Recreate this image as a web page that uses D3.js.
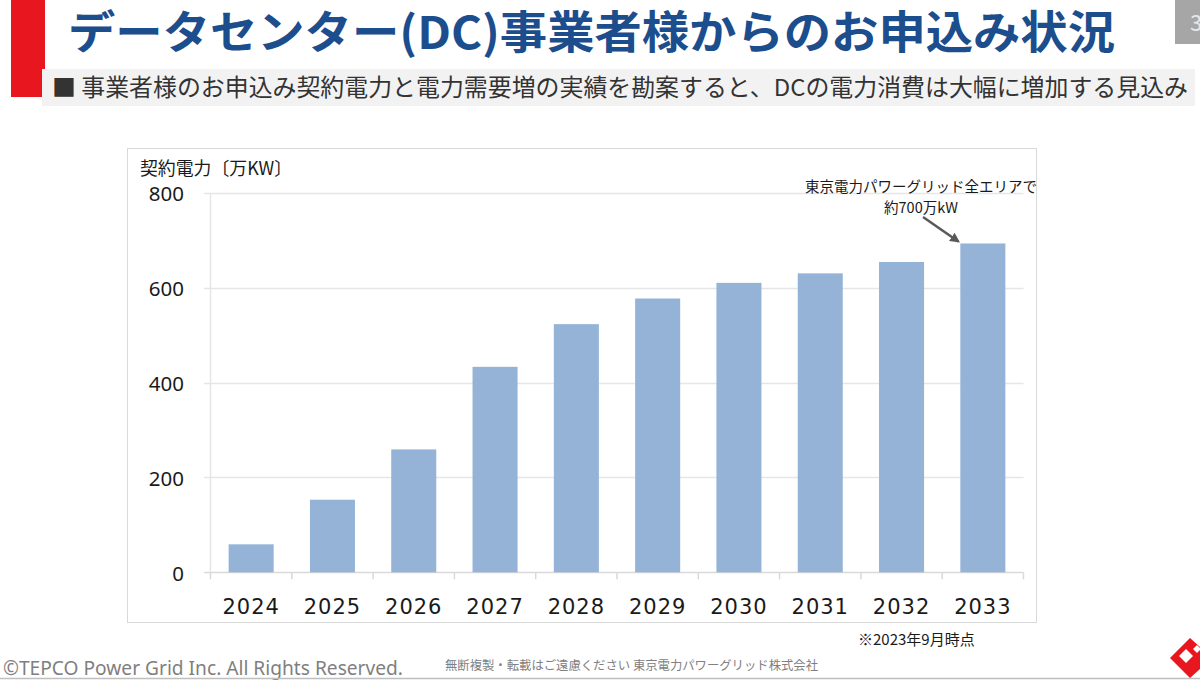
<!DOCTYPE html>
<html>
<head>
<meta charset="utf-8">
<script src="https://cdn.jsdelivr.net/npm/d3@7"></script>
<style>
  html, body { margin: 0; padding: 0; background: #fff; }
  svg { display: block; }
  text { font-family: "Noto Sans CJK JP", "Noto Sans", sans-serif; }
</style>
</head>
<body>
<svg id="chart" width="1200" height="680"></svg>
<script>
// data
const years = ["2024", "2025", "2026", "2027", "2028", "2029", "2030", "2031", "2032", "2033"];
const contractPower = [59, 153, 259, 433, 523, 577, 610, 630, 654, 693];
const yTicks = [0, 200, 400, 600, 800];

const titleText = "データセンター(DC)事業者様からのお申込み状況";
const subtitleText = "■ 事業者様のお申込み契約電力と電力需要増の実績を勘案すると、DCの電力消費は大幅に増加する見込み";
const yTitle = "契約電力〔万KW〕";
const noteLines = ["東京電力パワーグリッド全エリアで", "約700万kW"];
const asOf = "※2023年9月時点";

const svg = d3.select("#chart");

// header
svg.append("rect").attr("x", 11).attr("y", 0).attr("width", 34).attr("height", 97).attr("fill", "#e8161e");
svg.append("rect").attr("x", 42).attr("y", 69).attr("width", 1153).attr("height", 37).attr("fill", "#f2f2f2");

svg.append("text")
    .attr("x", 68).attr("y", 49)
    .attr("font-size", 45).attr("font-weight", 700)
    .attr("fill", "#1c4d8c")
    .attr("textLength", 1047).attr("lengthAdjust", "spacingAndGlyphs")
    .text(titleText);

svg.append("text")
    .attr("x", 52).attr("y", 96)
    .attr("font-size", 23.5)
    .attr("fill", "#333")
    .attr("textLength", 1136).attr("lengthAdjust", "spacingAndGlyphs")
    .text(subtitleText);

// page number tab (number is clipped by the slide edge, as on the original)
svg.append("defs").append("clipPath").attr("id", "tabclip")
    .append("rect").attr("x", 1175).attr("y", 0).attr("width", 25).attr("height", 44);
const tab = svg.append("g").attr("clip-path", "url(#tabclip)");
tab.append("rect").attr("x", 1175).attr("y", 0).attr("width", 25).attr("height", 44).attr("fill", "#a6a6a6");
tab.append("text").attr("x", 1190).attr("y", 31).attr("font-size", 22).attr("fill", "#e6e6e6").text("3");

// chart frame
svg.append("rect")
    .attr("x", 127.5).attr("y", 148.5).attr("width", 909).attr("height", 474)
    .attr("fill", "#fff").attr("stroke", "#d9d9d9");

// scales
const x = d3.scaleBand()
    .domain(years)
    .range([210.5, 1023.5])
    .paddingInner(0.446)
    .paddingOuter(0.223);

const y = d3.scaleLinear()
    .domain([0, 800])
    .range([572.3, 192.7]);

// gridlines
svg.append("g")
    .selectAll("line")
    .data(yTicks)
    .join("line")
    .attr("x1", 204).attr("x2", 1023.5)
    .attr("y1", d => Math.round(y(d)) + 0.5)
    .attr("y2", d => Math.round(y(d)) + 0.5)
    .attr("stroke", d => d === 0 ? "#d9d9d9" : "#e6e6e6")
    .attr("stroke-width", 1.5);

svg.append("line")
    .attr("x1", 210.5).attr("x2", 210.5)
    .attr("y1", y(800)).attr("y2", y(0))
    .attr("stroke", "#e6e6e6").attr("stroke-width", 1.5);

// y tick labels
const yAxis = svg.append("g")
    .attr("transform", "translate(184,0)")
    .call(d3.axisLeft(y).tickValues(yTicks).tickSize(0).tickPadding(0));
yAxis.select(".domain").remove();
yAxis.selectAll("text")
    .attr("font-size", 20.5)
    .attr("fill", "#1a1a1a")
    .attr("dy", "0.38em")
    .style("font-family", "'Noto Sans', sans-serif");

// x axis: ticks on band edges, labels centered
const xAxis = svg.append("g")
    .attr("transform", `translate(0,${y(0)})`)
    .call(d3.axisBottom(x).tickSize(0).tickPadding(27));
xAxis.select(".domain").remove();
xAxis.selectAll("text")
    .attr("font-size", 21)
    .attr("fill", "#1a1a1a")
    .attr("letter-spacing", 1)
    .style("font-family", "'DejaVu Sans', sans-serif");

const edges = years.map(d => x(d) - x.step() * x.paddingInner() / 2).concat([1023.5]);
svg.append("g")
    .selectAll("line")
    .data(edges)
    .join("line")
    .attr("x1", d => d).attr("x2", d => d)
    .attr("y1", y(0)).attr("y2", y(0) + 7)
    .attr("stroke", "#d9d9d9").attr("stroke-width", 1.5);

// bars
svg.append("g")
    .selectAll("rect")
    .data(years.map((d, i) => ({year: d, value: contractPower[i]})))
    .join("rect")
    .attr("x", d => x(d.year))
    .attr("y", d => y(d.value))
    .attr("width", x.bandwidth())
    .attr("height", d => y(0) - y(d.value))
    .attr("fill", "#95b3d7");

// axis title
svg.append("text")
    .attr("x", 140).attr("y", 175)
    .attr("font-size", 18)
    .attr("fill", "#1a1a1a")
    .attr("textLength", 152).attr("lengthAdjust", "spacingAndGlyphs")
    .text(yTitle);

// annotation
const last = years.length - 1;
svg.append("text")
    .attr("x", 921).attr("y", 192)
    .attr("text-anchor", "middle")
    .attr("font-size", 14.5)
    .attr("fill", "#1a1a1a")
    .selectAll("tspan")
    .data(noteLines)
    .join("tspan")
    .attr("x", 921)
    .attr("dy", (d, i) => i === 0 ? 0 : 21)
    .text(d => d);

svg.select("defs").append("marker")
    .attr("id", "arrow")
    .attr("viewBox", "0 0 10 10")
    .attr("refX", 8).attr("refY", 5)
    .attr("markerWidth", 4).attr("markerHeight", 4)
    .attr("orient", "auto")
    .append("path")
    .attr("d", "M0,0 L10,5 L0,10 z")
    .attr("fill", "#595959");

svg.append("line")
    .attr("x1", 923).attr("y1", 217)
    .attr("x2", x(years[last]) - 2).attr("y2", y(contractPower[last]) - 2)
    .attr("stroke", "#595959").attr("stroke-width", 2.5)
    .attr("marker-end", "url(#arrow)");

svg.append("text")
    .attr("x", 858).attr("y", 645)
    .attr("font-size", 15)
    .attr("fill", "#1a1a1a")
    .text(asOf);

// footer
svg.append("text")
    .attr("x", 3).attr("y", 675)
    .attr("font-size", 20)
    .attr("fill", "#7f7f7f")
    .attr("textLength", 400).attr("lengthAdjust", "spacingAndGlyphs")
    .style("font-family", "'Noto Sans', sans-serif")
    .text("©TEPCO Power Grid Inc. All Rights Reserved.");

svg.append("text")
    .attr("x", 445).attr("y", 670)
    .attr("font-size", 12.5)
    .attr("fill", "#808080")
    .attr("textLength", 373).attr("lengthAdjust", "spacingAndGlyphs")
    .text("無断複製・転載はご遠慮ください 東京電力パワーグリッド株式会社");

svg.append("line")
    .attr("x1", 0).attr("x2", 1200).attr("y1", 678.5).attr("y2", 678.5)
    .attr("stroke", "#bfbfbf").attr("stroke-width", 1.5);

// logo
const logo = svg.append("g");
logo.append("path")
    .attr("d", "M1170,658 L1190,638 L1212,658 L1190,678 Z")
    .attr("fill", "#e8161e");
logo.append("path")
    .attr("d", "M1179,656 L1186,649 L1193,656 L1186,663 Z")
    .attr("fill", "#fff");
logo.append("path")
    .attr("d", "M1193,649 L1197,645 L1201,649 L1197,653 Z")
    .attr("fill", "#fff");
</script>
</body>
</html>
